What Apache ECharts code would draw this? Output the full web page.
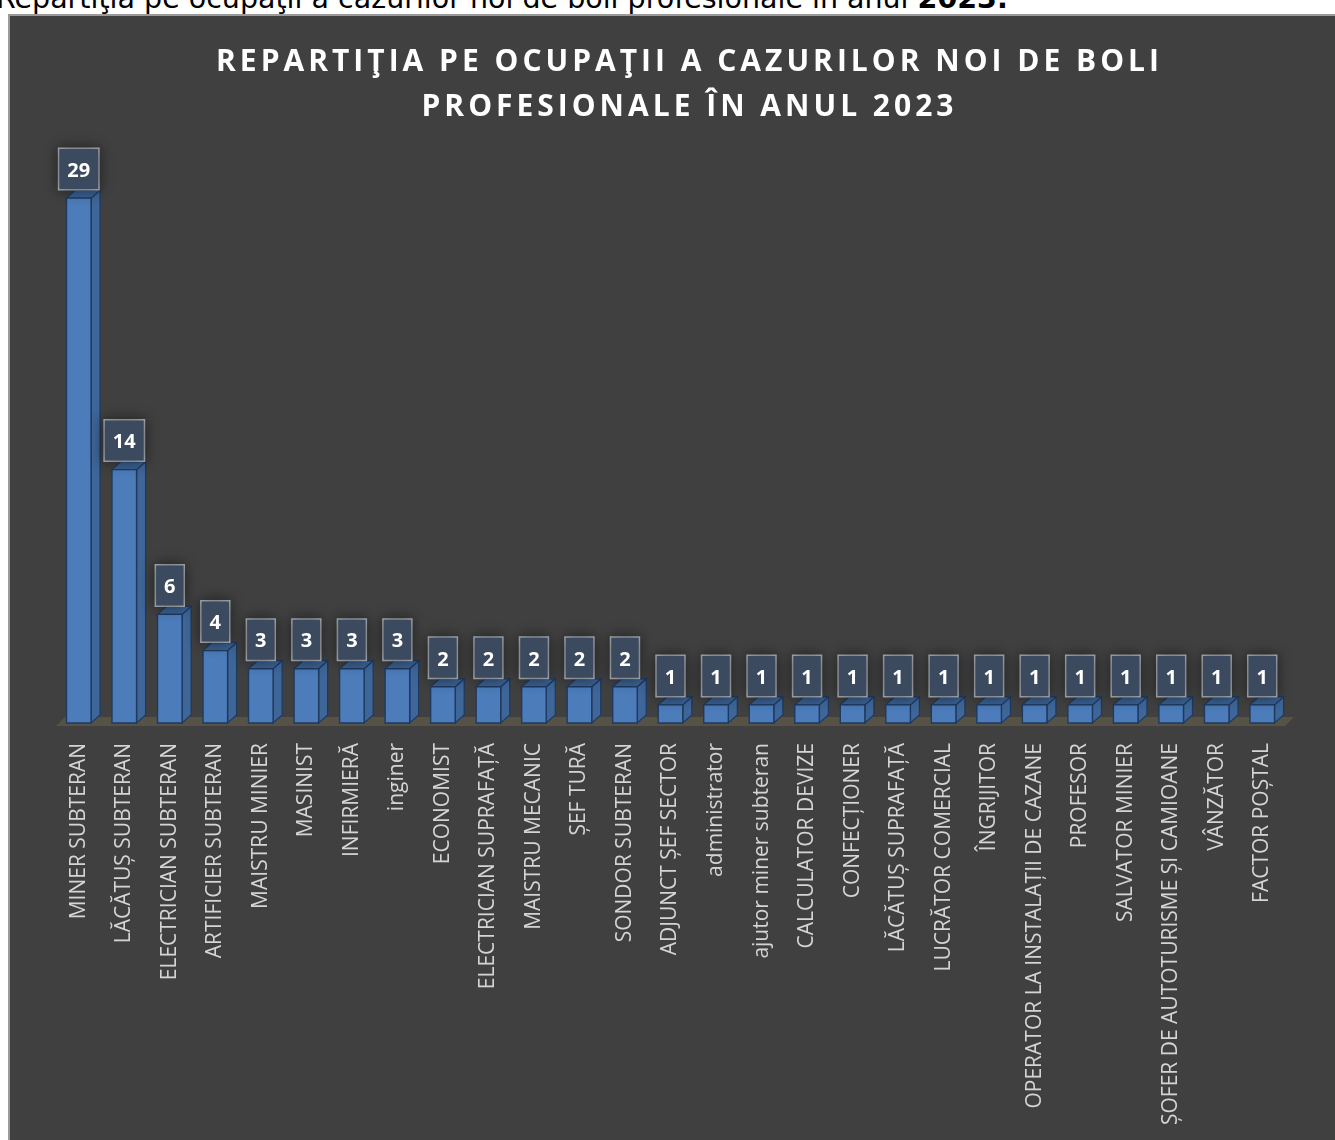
<!DOCTYPE html>
<html>
<head>
<meta charset="utf-8">
<script src="https://cdn.jsdelivr.net/npm/echarts@6/dist/echarts.min.js"></script>
<style>
  html, body { margin: 0; padding: 0; background: #fff; width: 1335px; height: 1140px; overflow: hidden; }
  #caption { position: absolute; left: -4px; top: -17px; font-family: "DejaVu Sans", Verdana, sans-serif; font-size: 28.5px; line-height: 32px; color: #000; white-space: nowrap; }
  #frame { position: absolute; left: 8px; top: 14px; width: 1327px; height: 1126px; background: #404040; border-left: 2px solid #9a9a9a; border-top: 2px solid #9a9a9a; box-sizing: border-box; }
  #title { position: absolute; left: 34px; right: 0; top: 21px; text-align: center; color: #fff; font-family: "Open Sans", sans-serif; font-weight: bold; font-size: 30px; letter-spacing: 4px; line-height: 45px; }
  #chart { position: absolute; left: 0; top: 0; width: 1325px; height: 1124px; }
</style>
</head>
<body>
<div id="caption">Repartiţia pe ocupaţii a cazurilor noi de boli profesionale în anul <b>2023.</b></div>
<div id="frame">
  <div id="chart"></div>
  <div id="title">REPARTIŢIA PE OCUPAŢII A CAZURILOR NOI DE BOLI<br>PROFESIONALE ÎN ANUL 2023</div>
</div>
<script>
const occupations = [
  "MINER SUBTERAN", "LĂCĂTUȘ SUBTERAN", "ELECTRICIAN SUBTERAN", "ARTIFICIER SUBTERAN",
  "MAISTRU MINIER", "MASINIST", "INFIRMIERĂ", "inginer", "ECONOMIST",
  "ELECTRICIAN SUPRAFAȚĂ", "MAISTRU MECANIC", "ȘEF TURĂ", "SONDOR SUBTERAN",
  "ADJUNCT ȘEF SECTOR", "administrator", "ajutor miner subteran", "CALCULATOR DEVIZE",
  "CONFECȚIONER", "LĂCĂTUȘ SUPRAFAȚĂ", "LUCRĂTOR COMERCIAL", "ÎNGRIJITOR",
  "OPERATOR LA INSTALAȚII DE CAZANE", "PROFESOR", "SALVATOR MINIER",
  "ȘOFER DE AUTOTURISME ȘI CAMIOANE", "VÂNZĂTOR", "FACTOR POȘTAL"
];
const cases = [29, 14, 6, 4, 3, 3, 3, 3, 2, 2, 2, 2, 2, 1, 1, 1, 1, 1, 1, 1, 1, 1, 1, 1, 1, 1, 1];

const chart = echarts.init(document.getElementById("chart"), null, { renderer: "canvas" });

// depth of the fake 3d bars
const DX = 9, DY = 8;

function renderFloor(params, api) {
  const cs = params.coordSys;
  const y = cs.y + cs.height + 3;
  return {
    type: "polygon",
    silent: true,
    shape: { points: [[cs.x, y], [cs.x + DX, y - DY - 1], [cs.x + cs.width + DX, y - DY - 1], [cs.x + cs.width, y]] },
    style: { fill: "#575246" }
  };
}

function renderBar(params, api) {
  const idx = api.value(0), v = api.value(1);
  const top = api.coord([idx, v]);
  const base = api.coord([idx, 0]);
  const band = api.size([1, 0])[0];
  const w = band * 0.54;
  const x0 = top[0] - w / 2, x1 = top[0] + w / 2;
  const stroke = "#1f3a60";
  return {
    type: "group",
    children: [
      { type: "polygon", shape: { points: [[x1, top[1]], [x1 + DX, top[1] - DY], [x1 + DX, base[1] - DY], [x1, base[1]]] },
        style: { fill: "#3e6698", stroke: stroke, lineWidth: 1.2 } },
      { type: "polygon", shape: { points: [[x0, top[1]], [x0 + DX, top[1] - DY], [x1 + DX, top[1] - DY], [x1, top[1]]] },
        style: { fill: "#3a6192", stroke: stroke, lineWidth: 1.2 } },
      { type: "rect", shape: { x: x0, y: top[1], width: w, height: base[1] - top[1] },
        style: { fill: "#4c7cba", stroke: stroke, lineWidth: 1.4 } },
      { type: "text", style: {
          text: String(v), x: top[0], y: top[1] - DY - 1, align: "center", verticalAlign: "bottom",
          fill: "#ffffff", font: 'bold 20px "Open Sans"',
          backgroundColor: "#3b4a5e", borderColor: "#a9aeb5", borderWidth: 1.5,
          padding: [12, 8, 8, 8], shadowBlur: 14, shadowColor: "rgba(0,0,0,0.45)"
        } }
    ]
  };
}

chart.setOption({
  animation: false,
  grid: { left: 46, right: 50, top: 164, bottom: 417 },
  xAxis: {
    type: "category",
    data: occupations,
    axisLine: { show: false },
    axisTick: { show: false },
    axisLabel: { interval: 0, rotate: 90, margin: 20, color: "#d4d4d4", fontSize: 21, fontFamily: "Open Sans" }
  },
  yAxis: {
    type: "value", min: 0, max: 30,
    axisLabel: { show: false }, axisLine: { show: false }, axisTick: { show: false }, splitLine: { show: false }
  },
  series: [
    { type: "custom", renderItem: renderFloor, data: [[0, 0]], silent: true, z: 1 },
    { type: "custom", renderItem: renderBar, data: cases.map((c, i) => [i, c]), z: 2 }
  ]
});
</script>
</body>
</html>
